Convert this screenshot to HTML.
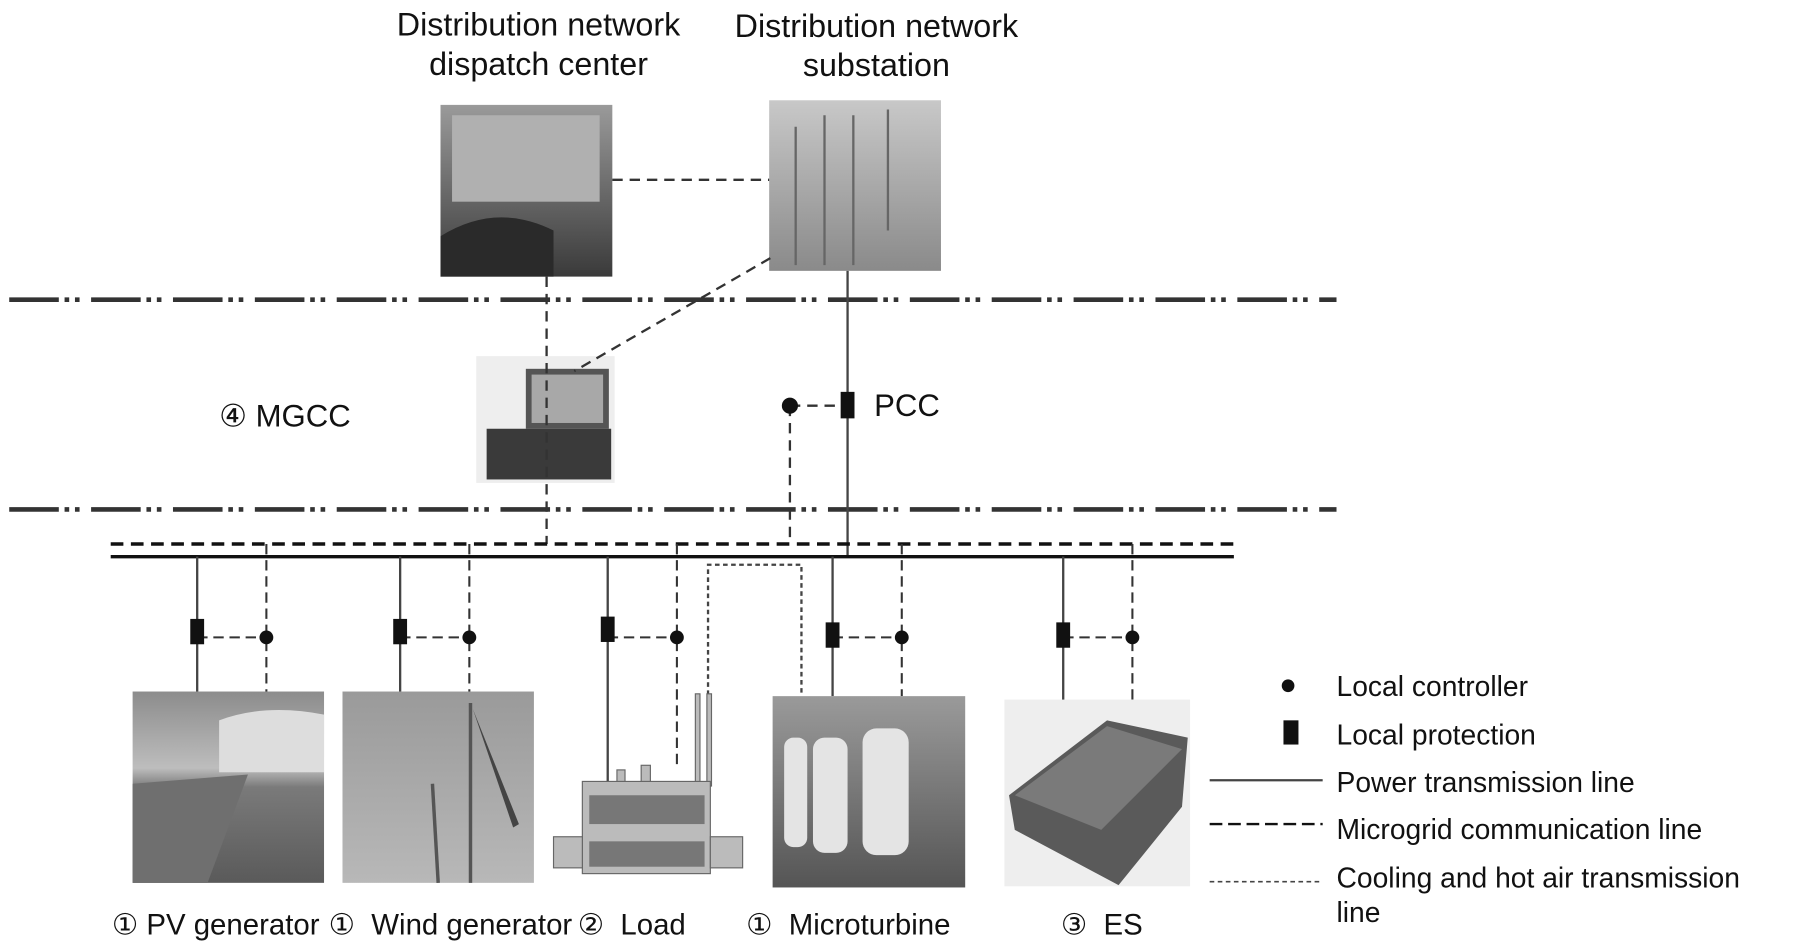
<!DOCTYPE html>
<html><head><meta charset="utf-8"><style>
html,body{margin:0;padding:0;background:#fff;}
svg{display:block;}
text{font-family:"Liberation Sans","DejaVu Sans",sans-serif;fill:#111;}
</style></head><body>
<svg width="1807" height="952" viewBox="0 0 1567 826" preserveAspectRatio="none" xmlns="http://www.w3.org/2000/svg">
<defs>
<linearGradient id="g1" x1="0" y1="0" x2="0" y2="1"><stop offset="0" stop-color="#9a9a9a"/><stop offset="0.5" stop-color="#6a6a6a"/><stop offset="1" stop-color="#3a3a3a"/></linearGradient>
<linearGradient id="g2" x1="0" y1="0" x2="0" y2="1"><stop offset="0" stop-color="#c8c8c8"/><stop offset="1" stop-color="#8a8a8a"/></linearGradient>
<linearGradient id="pv" x1="0" y1="0" x2="0" y2="1"><stop offset="0" stop-color="#8c8c8c"/><stop offset="0.4" stop-color="#bdbdbd"/><stop offset="0.5" stop-color="#7a7a7a"/><stop offset="1" stop-color="#5a5a5a"/></linearGradient>
<linearGradient id="wind" x1="0" y1="0" x2="0" y2="1"><stop offset="0" stop-color="#9a9a9a"/><stop offset="1" stop-color="#b8b8b8"/></linearGradient>
<linearGradient id="mt" x1="0" y1="0" x2="0" y2="1"><stop offset="0" stop-color="#9a9a9a"/><stop offset="1" stop-color="#555"/></linearGradient>
</defs>

<text x="467" y="31" font-size="28" text-anchor="middle">Distribution network</text>
<text x="467" y="65" font-size="28" text-anchor="middle">dispatch center</text>
<text x="760" y="32" font-size="28" text-anchor="middle">Distribution network</text>
<text x="760" y="66" font-size="28" text-anchor="middle">substation</text>

<rect x="382" y="91" width="149" height="149" fill="url(#g1)"/>
<rect x="392" y="100" width="128" height="75" fill="#b0b0b0"/>
<path d="M382 205 Q430 175 480 200 L480 240 L382 240 Z" fill="#2a2a2a"/>
<rect x="667" y="87" width="149" height="148" fill="url(#g2)"/>
<g stroke="#666" stroke-width="2"><line x1="690" y1="110" x2="690" y2="230"/><line x1="715" y1="100" x2="715" y2="230"/><line x1="740" y1="100" x2="740" y2="230"/><line x1="770" y1="95" x2="770" y2="200"/></g>

<g stroke="#333" stroke-width="4" stroke-dasharray="43 5 4 5 4 10">
<line x1="8" y1="260" x2="1159" y2="260"/>
<line x1="8" y1="442" x2="1159" y2="442"/>
</g>

<rect x="413" y="309" width="120" height="110" fill="#eee"/>
<rect x="456" y="320" width="72" height="52" fill="#555"/>
<rect x="461" y="325" width="62" height="42" fill="#a8a8a8"/>
<rect x="422" y="372" width="108" height="44" fill="#3a3a3a"/>

<g stroke="#333" stroke-width="2" stroke-dasharray="9 6" fill="none">
<line x1="531" y1="156" x2="667" y2="156"/>
<line x1="474" y1="240" x2="474" y2="472"/>
<line x1="668" y1="224" x2="498" y2="322"/>
<line x1="685" y1="352" x2="685" y2="472"/>
<line x1="685" y1="352" x2="735" y2="352"/>
</g>
<line x1="735" y1="235" x2="735" y2="483" stroke="#444" stroke-width="2"/>
<circle cx="685" cy="352" r="7" fill="#111"/>
<rect x="729" y="340" width="12" height="23" fill="#111"/>
<text x="758" y="361" font-size="27">PCC</text>
<text x="190" y="370" font-size="27">④ MGCC</text>

<line x1="96" y1="472" x2="1070" y2="472" stroke="#111" stroke-width="3" stroke-dasharray="11 6.5"/>
<line x1="96" y1="483" x2="1070" y2="483" stroke="#111" stroke-width="3"/>

<g stroke="#444" stroke-width="2">
<line x1="171" y1="483" x2="171" y2="600"/>
<line x1="347" y1="483" x2="347" y2="600"/>
<line x1="527" y1="483" x2="527" y2="680"/>
<line x1="722" y1="483" x2="722" y2="604"/>
<line x1="922" y1="483" x2="922" y2="640"/>
</g>
<g stroke="#333" stroke-width="1.8" stroke-dasharray="9 5" fill="none">
<line x1="231" y1="472" x2="231" y2="600"/>
<line x1="407" y1="472" x2="407" y2="600"/>
<line x1="587" y1="472" x2="587" y2="668"/>
<line x1="782" y1="472" x2="782" y2="604"/>
<line x1="982" y1="472" x2="982" y2="636"/>
<line x1="171" y1="553" x2="231" y2="553"/>
<line x1="347" y1="553" x2="407" y2="553"/>
<line x1="527" y1="553" x2="587" y2="553"/>
<line x1="722" y1="553" x2="782" y2="553"/>
<line x1="922" y1="553" x2="982" y2="553"/>
</g>
<g fill="#111">
<rect x="165" y="537" width="12" height="22"/><circle cx="231" cy="553" r="6"/>
<rect x="341" y="537" width="12" height="22"/><circle cx="407" cy="553" r="6"/>
<rect x="521" y="535" width="12" height="22"/><circle cx="587" cy="553" r="6"/>
<rect x="716" y="540" width="12" height="22"/><circle cx="782" cy="553" r="6"/>
<rect x="916" y="540" width="12" height="22"/><circle cx="982" cy="553" r="6"/>
</g>
<polyline points="614,603 614,490 695,490 695,604" fill="none" stroke="#444" stroke-width="2" stroke-dasharray="4 3"/>

<rect x="115" y="600" width="166" height="166" fill="url(#pv)"/>
<path d="M190 625 Q230 610 281 620 L281 670 L190 670 Z" fill="#ddd"/>
<path d="M115 680 L215 672 L180 766 L115 766 Z" fill="#6f6f6f"/>
<rect x="297" y="600" width="166" height="166" fill="url(#wind)"/>
<g stroke="#555" stroke-width="3"><line x1="408" y1="610" x2="408" y2="766"/><line x1="375" y1="680" x2="380" y2="766"/></g>
<path d="M410 615 L450 715 L445 718 Z" fill="#444"/>
<g fill="#bbb" stroke="#666" stroke-width="1">
<rect x="603" y="602" width="4" height="80"/><rect x="613" y="602" width="4" height="80"/>
<rect x="505" y="678" width="111" height="80"/>
<rect x="480" y="726" width="25" height="27"/><rect x="616" y="726" width="28" height="27"/>
<rect x="535" y="668" width="7" height="10"/><rect x="556" y="664" width="8" height="14"/>
</g>
<g fill="#777">
<rect x="511" y="690" width="100" height="25"/><rect x="511" y="730" width="100" height="22"/>
</g>
<rect x="670" y="604" width="167" height="166" fill="url(#mt)"/>
<g fill="#e4e4e4"><rect x="680" y="640" width="20" height="95" rx="8"/><rect x="705" y="640" width="30" height="100" rx="10"/><rect x="748" y="632" width="40" height="110" rx="12"/></g>
<rect x="871" y="607" width="161" height="162" fill="#eee"/>
<path d="M875 690 L960 625 L1030 640 L1025 700 L970 768 L880 720 Z" fill="#5a5a5a"/>
<path d="M880 690 L960 630 L1025 650 L955 720 Z" fill="#7a7a7a"/>

<g font-size="25.5">
<text x="97" y="811">① PV generator</text>
<text x="285" y="811">①&#160; Wind generator</text>
<text x="501" y="811">②&#160; Load</text>
<text x="647" y="811">①&#160; Microturbine</text>
<text x="920" y="811">③&#160; ES</text>
</g>

<circle cx="1117" cy="595" r="5.5" fill="#111"/>
<rect x="1113" y="625" width="13" height="21" fill="#111"/>
<line x1="1049" y1="677" x2="1147" y2="677" stroke="#444" stroke-width="2"/>
<line x1="1049" y1="715" x2="1147" y2="715" stroke="#111" stroke-width="2" stroke-dasharray="11 5"/>
<line x1="1049" y1="765" x2="1147" y2="765" stroke="#444" stroke-width="1.5" stroke-dasharray="4 3"/>
<g font-size="24.5">
<text x="1159" y="604">Local controller</text>
<text x="1159" y="646">Local protection</text>
<text x="1159" y="687">Power transmission line</text>
<text x="1159" y="728">Microgrid communication line</text>
<text x="1159" y="770">Cooling and hot air transmission</text>
<text x="1159" y="800">line</text>
</g>
</svg>
</body></html>
